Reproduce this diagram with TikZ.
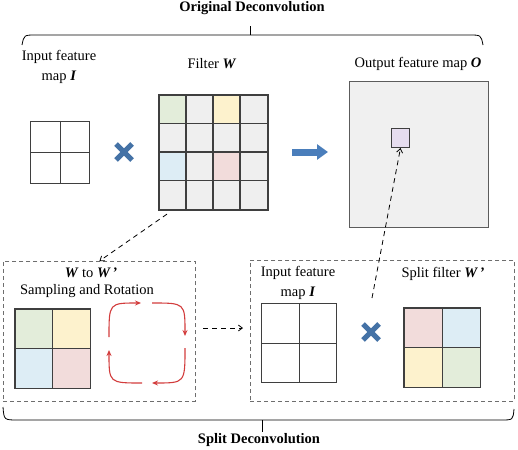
\documentclass[tikz,border=0pt]{standalone}
\usepackage{fontspec}
\setmainfont{Liberation Serif}
\usetikzlibrary{arrows.meta,calc}
\definecolor{lineC}{HTML}{3F3F3F}
\definecolor{cellG}{HTML}{EFEFEF}
\definecolor{cgreen}{HTML}{E3EDDA}
\definecolor{cyellow}{HTML}{FDF2CD}
\definecolor{cblue}{HTML}{DDEDF5}
\definecolor{cpink}{HTML}{F2DCDB}
\definecolor{outG}{HTML}{F0F0F0}
\definecolor{cpurple}{HTML}{E6DDEF}
\definecolor{xblue}{HTML}{4472A6}
\definecolor{ablue}{HTML}{4A7EBB}
\definecolor{rarrow}{HTML}{D23C3C}
\definecolor{boxG}{HTML}{6E6E6E}
\begin{document}
\begin{tikzpicture}[x=1pt,y=-1pt,
  font=\fontsize{14.5}{20}\selectfont,
  gl/.style={draw=lineC, line width=1.1pt},
  gridbox/.style={gl, inner sep=0pt, anchor=north west},
  dbox/.style={draw=boxG, line width=0.9pt, dash pattern=on 4pt off 3pt},
  darrow/.style={black, line width=0.8pt, dash pattern=on 5pt off 4pt, -{Straight Barb[length=4pt,width=6pt]}},
  rarr/.style={rarrow, line width=1.1pt, -{Stealth[length=6pt,width=5pt]}},
  xmark/.style={xblue, line width=5pt},
  brace/.style={black, line width=0.8pt},
  lab/.style={align=center, inner sep=0pt}]
\useasboundingbox (0,0) rectangle (518,449);

% titles and braces
\node[lab, font=\fontsize{14.5}{16}\selectfont\bfseries] (t1) at (252,8) {Original Deconvolution};
\draw[brace] (22,45) .. controls (24,35) .. (36,35) -- (469,35) .. controls (481,35) .. (483,45);
\draw[brace] (250,35) -- (250,26);
\node[lab, font=\fontsize{14.5}{16}\selectfont\bfseries] (t2) at (259,440) {Split Deconvolution};
\draw[brace] (3,407) .. controls (4,420) .. (18,420) -- (501,420) .. controls (513,420) .. (514,409);
\draw[brace] (262,420) -- (262,432);

% labels top
\node[lab] (lI) at (59,67) {Input feature\\map \textbf{\textit{I}}};
\node[lab] (lW) at (212,64) {Filter \textbf{\textit{W}}};
\node[lab] (lO) at (418,64) {Output feature map \textbf{\textit{O}}};

% input map I (top)
\node[gridbox, minimum width=59pt, minimum height=62pt] (inI) at (30,121) {};
\draw[gl] (inI.north) -- (inI.south) (inI.west) -- (inI.east);

% X mark 1
\coordinate (x1) at (124,152);
\draw[xmark] ($(x1)+(-8,-8)$) -- ($(x1)+(8,8)$) ($(x1)+(-8,8)$) -- ($(x1)+(8,-8)$);

% filter W
\node[gridbox, fill=cellG, minimum width=108pt, minimum height=114pt] (filter) at (159,95) {};
\fill[cgreen] (159,95) rectangle ++(27,28.5);
\fill[cyellow] (213,95) rectangle ++(27,28.5);
\fill[cblue] (159,152) rectangle ++(27,28.5);
\fill[cpink] (213,152) rectangle ++(27,28.5);
\foreach \k in {1,2,3}{
  \draw[gl] (159+27*\k,95) -- ++(0,114);
  \draw[gl] (159,95+28.5*\k) -- ++(108,0);
}
\draw[gl] (filter.north west) rectangle (filter.south east);

% output map
\node[draw=lineC!85, line width=1pt, fill=outG, inner sep=0pt, anchor=north west,
      minimum width=139pt, minimum height=146pt] (outmap) at (349,81) {};
\node[draw=lineC, line width=1pt, fill=cpurple, inner sep=0pt, anchor=north west,
      minimum width=18pt, minimum height=19pt] (smallsq) at (391,128) {};

% big blue arrow
\draw[ablue, line width=7pt, shorten <=24pt, shorten >=21pt,
      -{Triangle[length=11pt,width=15pt]}] (filter.east |- x1) -- (outmap.west |- x1);

% left dashed box
\node[dbox, inner sep=0pt, anchor=north west, minimum width=192pt, minimum height=140pt] (lbox) at (3,261) {};
\node[lab] (lWW) at (91,273) {\textbf{\textit{W}} to \textbf{\textit{W\,'}}};
\node[lab] (lSR) at (87,291) {Sampling and Rotation};
\node[gridbox, minimum width=74pt, minimum height=78pt] (sgL) at (15,309) {};
\fill[cgreen] (sgL.north west) rectangle (sgL.center);
\fill[cyellow] (sgL.north) rectangle (sgL.east);
\fill[cblue] (sgL.west) rectangle (sgL.south);
\fill[cpink] (sgL.center) rectangle (sgL.south east);
\draw[gl] (sgL.north west) rectangle (sgL.south east);
\draw[gl] (sgL.north) -- (sgL.south) (sgL.west) -- (sgL.east);

% rotation arrows
\draw[rarr] (109,337) .. controls (109,303) .. (141,303);
\draw[rarr] (152,303) .. controls (185,303) .. (185,336);
\draw[rarr] (185,348) .. controls (185,383) .. (152,383);
\draw[rarr] (142,383) .. controls (109,383) .. (109,350);

% right dashed box
\node[dbox, inner sep=0pt, anchor=north west, minimum width=264pt, minimum height=141pt] (rbox) at (250,260) {};
\node[lab] (rI) at (298,283) {Input feature\\map \textbf{\textit{I}}};
\node[lab] (rSF) at (443,274) {Split filter \textbf{\textit{W\,'}}};
\node[gridbox, minimum width=75pt, minimum height=79pt] (inI2) at (261,303) {};
\draw[gl] (inI2.north) -- (inI2.south) (inI2.west) -- (inI2.east);
\coordinate (x2) at (371,332);
\draw[xmark] ($(x2)+(-8,-8)$) -- ($(x2)+(8,8)$) ($(x2)+(-8,8)$) -- ($(x2)+(8,-8)$);
\node[gridbox, minimum width=75pt, minimum height=78pt] (sgR) at (404,308) {};
\fill[cpink] (sgR.north west) rectangle (sgR.center);
\fill[cblue] (sgR.north) rectangle (sgR.east);
\fill[cyellow] (sgR.west) rectangle (sgR.south);
\fill[cgreen] (sgR.center) rectangle (sgR.south east);
\draw[gl] (sgR.north west) rectangle (sgR.south east);
\draw[gl] (sgR.north) -- (sgR.south) (sgR.west) -- (sgR.east);

% dashed connectors
\coordinate (fstart) at ($(filter.south west)+(8,4)$);
\draw[darrow] (fstart) -- (lbox.north);
\coordinate (hs) at (203,328);
\coordinate (he) at (243,328);
\draw[darrow] (hs) -- (he);
\coordinate (ostart) at (372,298);
\draw[darrow] (ostart) -- (smallsq.south);
\end{tikzpicture}
\end{document}
